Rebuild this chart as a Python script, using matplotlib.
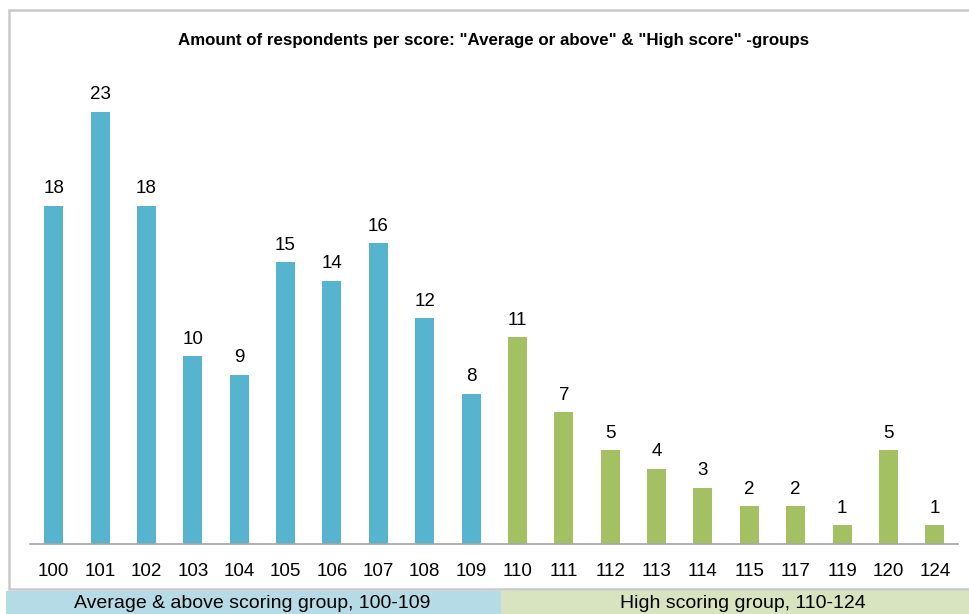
import matplotlib
matplotlib.use("Agg")
import matplotlib.pyplot as plt
from matplotlib.patches import Rectangle

# scores and number of respondents
scores = ["100", "101", "102", "103", "104", "105", "106", "107", "108", "109",
          "110", "111", "112", "113", "114", "115", "117", "119", "120", "124"]
counts = [18, 23, 18, 10, 9, 15, 14, 16, 12, 8,
          11, 7, 5, 4, 3, 2, 2, 1, 5, 1]
n_average = 10  # first ten scores belong to the average group

title = 'Amount of respondents per score: "Average or above" & "High score" -groups'
group_labels = ["Average & above scoring group, 100-109", "High scoring group, 110-124"]

blue = "#56b4cf"
green = "#a3c163"
blue_band = "#b5dce6"
green_band = "#d8e4bf"

plt.rcParams["font.family"] = ["Liberation Sans", "DejaVu Sans"]

W, H = 970, 614
fig = plt.figure(figsize=(W / 100, H / 100), dpi=100)

# outer chart frame
fig.patches.append(Rectangle((9 / W, 1 - 589 / H), 1.0, (589 - 10) / H,
                             transform=fig.transFigure, facecolor="white",
                             edgecolor="#c9c9c9", linewidth=1.8, zorder=-2))

# group bands under the chart
fig.patches.append(Rectangle((6 / W, 0), (501 - 6) / W, (614 - 591) / H,
                             transform=fig.transFigure, facecolor=blue_band,
                             edgecolor="none", zorder=-1))
fig.patches.append(Rectangle((501 / W, 0), (W - 501) / W, (614 - 591) / H,
                             transform=fig.transFigure, facecolor=green_band,
                             edgecolor="none", zorder=-1))
fig.text(252 / W, 1 - 604 / H, group_labels[0], ha="center", va="center", fontsize=14)
fig.text(743 / W, 1 - 604 / H, group_labels[1], ha="center", va="center", fontsize=14)

fig.text(494 / W, 1 - 41 / H, title, ha="center", va="center", fontsize=12.2,
         fontweight="bold")

ax = fig.add_axes([30 / W, 1 - 544 / H, (958 - 30) / W, (544 - 60) / H])
ax.set_facecolor("none")
ax.set_zorder(2)

x = list(range(len(scores)))
colors = [blue if i < n_average else green for i in x]
bars = ax.bar(x, counts, width=0.41, color=colors)

for xi, c in zip(x, counts):
    ax.annotate(str(c), (xi, c), xytext=(0, 6), textcoords="offset points",
                ha="center", va="bottom", fontsize=13.5)

ax.set_xlim(-0.51, len(scores) - 1 + 0.5)
ax.set_ylim(0, 484 / 18.8)
ax.set_xticks(x)
ax.set_xticklabels(scores, fontsize=13.5)
ax.tick_params(axis="x", length=0, pad=13.5)
ax.set_yticks([])
for side in ["left", "right", "top"]:
    ax.spines[side].set_visible(False)
ax.spines["bottom"].set_color("#a6a6a6")
ax.spines["bottom"].set_linewidth(1.2)

fig.savefig("out.png", dpi=100)
